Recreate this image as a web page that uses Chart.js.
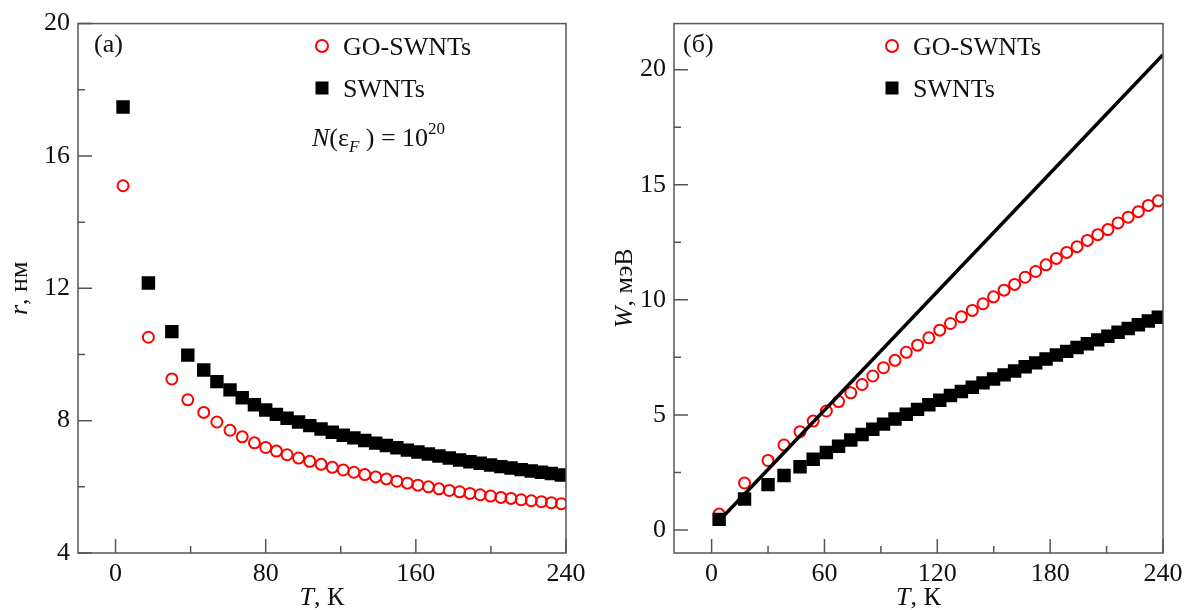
<!DOCTYPE html>
<html>
<head>
<meta charset="utf-8">
<script src="https://cdn.jsdelivr.net/npm/chart.js@4.4.1/dist/chart.umd.min.js"></script>
<style>
  html, body { margin: 0; padding: 0; background: #fff; }
  #wrap { position: relative; width: 1189px; height: 610px; }
  canvas { position: absolute; top: 0; }
  #leftChart { left: 0; }
  #rightChart { left: 596px; }
</style>
</head>
<body>
<div id="wrap">
  <canvas id="leftChart" width="596" height="610"></canvas>
  <canvas id="rightChart" width="593" height="610"></canvas>
</div>
<script>
// temperatures, K (same for every series)
var temps = [4, 17.5, 30, 38.5, 47, 54, 61, 67.5, 74, 80,
  85.7, 91.4, 97.5, 103.5, 109.5, 115.5, 121.3, 127, 132.8, 138.6,
  144.3, 149.9, 155.5, 161.1, 166.7, 172.3, 177.8, 183.3, 188.8, 194.3,
  199.8, 205.3, 210.7, 216.1, 221.5, 226.9, 232.2, 237.5];

// (a) r, nm
var rGO = [15.1, 10.52, 9.26, 8.63, 8.25, 7.96, 7.71, 7.51, 7.33, 7.19,
  7.08, 6.97, 6.87, 6.77, 6.68, 6.59, 6.51, 6.44, 6.37, 6.30,
  6.24, 6.17, 6.11, 6.05, 6.00, 5.94, 5.89, 5.85, 5.80, 5.76,
  5.72, 5.68, 5.65, 5.61, 5.58, 5.55, 5.52, 5.49];
var rSWNT = [17.48, 12.16, 10.69, 9.98, 9.53, 9.18, 8.93, 8.69, 8.48, 8.32,
  8.19, 8.07, 7.96, 7.85, 7.75, 7.65, 7.56, 7.48, 7.40, 7.32,
  7.25, 7.18, 7.11, 7.05, 6.99, 6.93, 6.87, 6.81, 6.76, 6.71,
  6.66, 6.61, 6.57, 6.52, 6.48, 6.44, 6.40, 6.36];

// (б) W, meV
var wGO = [0.69, 2.04, 3.02, 3.69, 4.27, 4.73, 5.17, 5.58, 5.96, 6.32,
  6.69, 7.05, 7.37, 7.72, 8.03, 8.35, 8.68, 8.97, 9.26, 9.54,
  9.83, 10.13, 10.42, 10.67, 10.98, 11.23, 11.52, 11.80, 12.06, 12.31,
  12.58, 12.83, 13.05, 13.34, 13.59, 13.83, 14.10, 14.30];
var wSWNT = [0.46, 1.35, 1.97, 2.37, 2.75, 3.07, 3.37, 3.64, 3.91, 4.15,
  4.38, 4.60, 4.82, 5.03, 5.24, 5.44, 5.64, 5.84, 6.02, 6.20,
  6.39, 6.56, 6.74, 6.91, 7.09, 7.26, 7.43, 7.60, 7.76, 7.93,
  8.09, 8.26, 8.42, 8.59, 8.75, 8.92, 9.08, 9.24];
var fitT = [4, 240];
var fitW = [0.4, 20.65];

// ticks
var leftXTicks = [0, 80, 160, 240];
var leftXMinor = [40, 120, 200];
var leftYTicks = [4, 8, 12, 16, 20];
var leftYMinor = [6, 10, 14, 18];
var rightXTicks = [0, 60, 120, 180, 240];
var rightXMinor = [30, 90, 150, 210];
var rightYTicks = [0, 5, 10, 15, 20];
var rightYMinor = [2.5, 7.5, 12.5, 17.5];

var serif = '"Liberation Serif", "Times New Roman", Times, "DejaVu Serif", serif';
var up26 = '26px ' + serif;
var it26 = 'italic 26px ' + serif;
var sm17 = '17px ' + serif;
var itSm17 = 'italic 17px ' + serif;

function pts(xs, ys) {
    return xs.map(function (x, i) { return { x: x, y: ys[i] }; });
}

// draw a row of text pieces with different fonts
function drawRuns(ctx, x, y, runs, center) {
    var total = 0;
    runs.forEach(function (r) { ctx.font = r.font; total += ctx.measureText(r.t).width; });
    var cx = center ? x - total / 2 : x;
    runs.forEach(function (r) {
        ctx.font = r.font;
        ctx.fillText(r.t, cx, y + (r.dy || 0));
        cx += ctx.measureText(r.t).width;
    });
}

var decorPlugin = {
    id: 'decor',
    afterDatasetsDraw: function (chart, args, o) {
        var ctx = chart.ctx, a = chart.chartArea;
        var xs = chart.scales.x, ys = chart.scales.y;
        ctx.save();
        // frame and inward ticks
        ctx.strokeStyle = '#555';
        ctx.lineWidth = 1.5;
        ctx.strokeRect(a.left, a.top, a.right - a.left, a.bottom - a.top);
        ctx.beginPath();
        o.xMajor.forEach(function (v) { var p = xs.getPixelForValue(v); ctx.moveTo(p, a.bottom); ctx.lineTo(p, a.bottom - 14); });
        o.xMinor.forEach(function (v) { var p = xs.getPixelForValue(v); ctx.moveTo(p, a.bottom); ctx.lineTo(p, a.bottom - 7); });
        o.yMajor.forEach(function (v) { var p = ys.getPixelForValue(v); ctx.moveTo(a.left, p); ctx.lineTo(a.left + 14, p); });
        o.yMinor.forEach(function (v) { var p = ys.getPixelForValue(v); ctx.moveTo(a.left, p); ctx.lineTo(a.left + 7, p); });
        ctx.stroke();

        ctx.fillStyle = '#111';
        ctx.textBaseline = 'alphabetic';
        ctx.textAlign = 'left';
        // x title
        drawRuns(ctx, (a.left + a.right) / 2, 605, [{ t: 'T', font: it26 }, { t: ', К', font: up26 }], true);
        // y title (rotated)
        ctx.save();
        ctx.translate(o.yTitleX, (a.top + a.bottom) / 2);
        ctx.rotate(-Math.PI / 2);
        drawRuns(ctx, 0, 0, o.yTitle, true);
        ctx.restore();

        // panel letter
        ctx.font = up26;
        ctx.fillText(o.letter, o.letterX, 52);

        // legend
        ctx.strokeStyle = '#ff0000';
        ctx.lineWidth = 2;
        ctx.beginPath();
        ctx.arc(o.legX, 46, 6, 0, Math.PI * 2);
        ctx.stroke();
        ctx.fillStyle = '#000';
        ctx.fillRect(o.legX - 6.5, 88 - 6.5, 13, 13);
        ctx.fillStyle = '#111';
        ctx.font = up26;
        ctx.fillText('GO-SWNTs', o.legX + 21, 55);
        ctx.fillText('SWNTs', o.legX + 21, 97);

        if (o.note) {
            drawRuns(ctx, o.legX - 10, 146, [
                { t: 'N', font: it26 },
                { t: '(', font: up26 },
                { t: 'ε', font: up26 },
                { t: 'F', font: itSm17, dy: 6 },
                { t: ' )', font: up26 },
                { t: ' = ', font: up26 },
                { t: '10', font: up26 },
                { t: '20', font: sm17, dy: -12 }
            ], false);
        }
        ctx.restore();
    }
};

function axisOpts(min, max, ticks, isX) {
    return {
        type: 'linear',
        min: min,
        max: max,
        afterBuildTicks: function (s) { s.ticks = ticks.map(function (v) { return { value: v }; }); },
        afterFit: function (s) { if (isX) { s.height = 57; } else { s.width = 78; } },
        grid: { display: false, drawTicks: false },
        border: { display: false },
        ticks: {
            font: { family: serif, size: 26 },
            color: '#111',
            padding: isX ? 6 : 8,
            maxRotation: 0,
            autoSkip: false
        }
    };
}

function makePanel(id, cfg) {
    var ctx = document.getElementById(id).getContext('2d');
    return new Chart(ctx, {
        type: 'scatter',
        data: { datasets: cfg.datasets },
        options: {
            responsive: false,
            animation: false,
            events: [],
            layout: { padding: { left: 0, right: cfg.padRight, top: 22, bottom: 0 } },
            plugins: { legend: { display: false }, tooltip: { enabled: false }, decor: cfg.decor },
            scales: {
                x: axisOpts(-20, 240, cfg.xTicks, true),
                y: axisOpts(cfg.yMin, cfg.yMax, cfg.yTicks, false)
            }
        },
        plugins: [decorPlugin]
    });
}

function circles(data) {
    return {
        label: 'GO-SWNTs', data: data, order: 2,
        pointStyle: 'circle', pointRadius: 5.5, pointBorderWidth: 2,
        pointBorderColor: '#ff0000', pointBackgroundColor: 'rgba(0,0,0,0)'
    };
}
function squares(data) {
    return {
        label: 'SWNTs', data: data, order: 1,
        pointStyle: 'rect', pointRadius: 9.5, pointBorderWidth: 0,
        pointBackgroundColor: '#000', pointBorderColor: '#000'
    };
}

makePanel('leftChart', {
    padRight: 30,
    xTicks: leftXTicks, yTicks: leftYTicks, yMin: 4, yMax: 20,
    datasets: [circles(pts(temps, rGO)), squares(pts(temps, rSWNT))],
    decor: {
        xMajor: leftXTicks, xMinor: leftXMinor, yMajor: leftYTicks, yMinor: leftYMinor,
        yTitleX: 27, yTitle: [{ t: 'r', font: it26 }, { t: ', нм', font: up26 }],
        letter: '(а)', letterX: 94, legX: 322, note: true
    }
});

makePanel('rightChart', {
    padRight: 26,
    xTicks: rightXTicks, yTicks: rightYTicks, yMin: -1, yMax: 22,
    datasets: [
        {
            label: 'fit', data: pts(fitT, fitW), order: 0, showLine: true,
            borderColor: '#000', borderWidth: 3.5, pointRadius: 0
        },
        circles(pts(temps, wGO)),
        squares(pts(temps, wSWNT))
    ],
    decor: {
        xMajor: rightXTicks, xMinor: rightXMinor, yMajor: rightYTicks, yMinor: rightYMinor,
        yTitleX: 36, yTitle: [{ t: 'W', font: it26 }, { t: ', мэВ', font: up26 }],
        letter: '(б)', letterX: 87, legX: 296, note: false
    }
});
</script>
</body>
</html>
